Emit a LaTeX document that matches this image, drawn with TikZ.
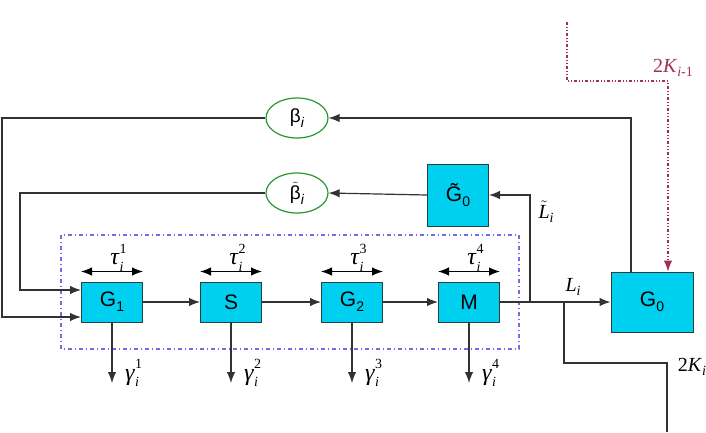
\documentclass[tikz,border=0pt]{standalone}
\usepackage{amsmath}
\usepackage{fontspec}
\setmainfont{Liberation Serif}
\setsansfont{Liberation Sans}
\usepackage{tikz}
\usetikzlibrary{arrows.meta}
\usetikzlibrary{fit,positioning,shapes.geometric}

\definecolor{boxcyan}{RGB}{0,208,240}
\definecolor{boxedge}{RGB}{45,60,60}
\definecolor{ringgreen}{RGB}{40,150,50}
\definecolor{stageblue}{RGB}{110,110,230}
\definecolor{prevred}{RGB}{160,50,80}
\definecolor{wire}{RGB}{50,50,50}

% index below / index pair on a symbol
\newcommand{\lowidx}[1]{\raisebox{-0.45ex}{\fontsize{14}{14}\selectfont #1}}
\newcommand{\supsub}[3]{#1\rlap{\raisebox{1.05ex}{\fontsize{14}{14}\selectfont #2}}\raisebox{-0.6ex}{\fontsize{14}{14}\selectfont\textit{#3}}}
\newcommand{\tildeover}[1]{$\tilde{\text{#1}}$}

\begin{document}
\begin{tikzpicture}[x=1pt, y=-1pt, >={Latex[length=11pt,width=8.5pt]}]
		\tikzstyle{block}=[rectangle, draw=boxedge, line width=1pt, fill=boxcyan, minimum width=61pt, minimum height=40pt, inner sep=0pt, font=\sffamily\fontsize{21}{21}\selectfont]
		\tikzstyle{ring}=[ellipse, draw=ringgreen, line width=1.2pt, fill=white, minimum width=62pt, minimum height=40pt, inner sep=0pt, font=\sffamily\fontsize{19}{19}\selectfont]
		\tikzstyle{line}=[draw=wire, line width=1.2pt]
		\tikzstyle{connect}=[->, draw=wire, line width=1.2pt]
		\tikzstyle{dbl}=[<->, draw=black, line width=1.2pt]
		\tikzstyle{lbl}=[inner sep=1pt, font=\fontsize{24}{24}\selectfont]
		\useasboundingbox (0,0) rectangle (706,432);
		% the stage chain
		\node[block] (G1) at (112,302) {G\lowidx{1}};
		\node[block] (S) [right =57pt of G1] {S};
		\node[block] (G2) [right =59pt of S] {G\lowidx{2}};
		\node[block] (M) [right =55pt of G2] {M};
		\node[block, minimum width=82pt, minimum height=60pt] (G0) at (652,302) {G\lowidx{0}};
		\node[block, minimum height=62pt] (G0t) at (458,195) {\~{G}\lowidx{0}};
		\node[ring] (beta) at (297,118) {β\lowidx{\textit{i}}};
		\node[ring] (betat) at (297,193) {\tildeover{β}\lowidx{\textit{i}}};
		\draw[stageblue, line width=1.1pt, dash pattern=on 4pt off 3pt on 1pt off 3pt] (61,235) rectangle (519,349);
		% free ends and bends
		\coordinate (tap) at (530,302);
		\coordinate (split) at (564,302);
		\coordinate (kcorner) at (667,363);
		\coordinate (kout) at (667,432);
		\coordinate (lb) at (2,118);
		\coordinate (lbt) at (20,193);
		\coordinate (in1) at ([yshift=12pt]G1.west);
		\coordinate (in2) at ([yshift=-15pt]G1.west);
		\coordinate (rtop) at (567,22);
		\coordinate (rbend) at (567,81);
		\coordinate (rcorner) at (668,81);
		\foreach \b/\k in {G1/1, S/2, G2/3, M/4} {
			\coordinate (\b l) at ([yshift=10pt]\b.north west);
			\coordinate (\b r) at ([yshift=10pt]\b.north east);
			\coordinate (\b o) at (\b.south |- 0,383);
			\draw[dbl] (\b l) -- (\b r) node[lbl, midway, xshift=5pt, yshift=14pt] {\supsub{\textit{τ}}{\k}{i}};
			\draw[connect] (\b) -- (\b o);
			\node[lbl, anchor=west, xshift=12pt, yshift=10pt] at (\b o) {\supsub{\textit{γ}}{\k}{i}};
		}
		\path 
		(G1) edge [connect] (S)
		(S) edge [connect] (G2)
		(G2) edge [connect] (M)
		(M) edge [connect] (G0)
		(G0t.west) edge [connect] (betat.east)
		;
		\draw[connect] (tap) |- (G0t.east);
		\draw[connect] ([xshift=-21pt]G0.north) |- (beta.east);
		\draw[connect] (beta.west) -- (lb) |- (in2);
		\draw[connect] (betat.west) -- (lbt) |- (in1);
		\draw[line] (split) |- (kcorner) -- (kout);
		\draw[->, prevred, line width=1.1pt, dash pattern=on 3pt off 2pt on 1pt off 2pt on 1pt off 2pt] (rtop) -- (rbend) -- (rcorner) -- ([xshift=16pt]G0.north);
		% labels
		\node[lbl, font=\fontsize{20}{20}\selectfont] (Li) at (573,287) {\textit{L}\lowidx{\textit{i}}};
		\node[lbl, font=\fontsize{20}{20}\selectfont] (Lti) at (546,212) {\tildeover{\textit{L}}\lowidx{\textit{i}}};
		\node[lbl, font=\fontsize{20}{20}\selectfont] (K) at (692,367) {2\textit{K}\lowidx{\textit{i}}};
		\node[lbl, font=\fontsize{20}{20}\selectfont, text=prevred] (Kprev) at (673,68) {2\textit{K}\lowidx{\textit{i}-1}};
	\end{tikzpicture}
\end{document}
